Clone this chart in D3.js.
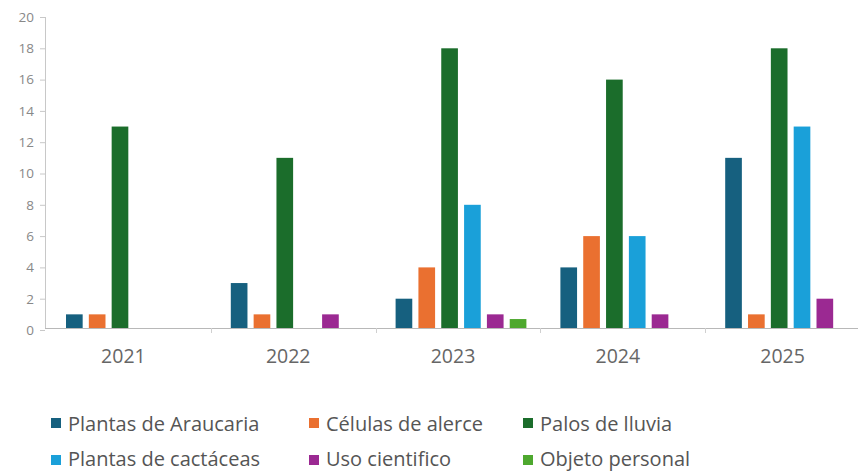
<!DOCTYPE html>
<html>
<head>
<meta charset="utf-8">
<script src="https://cdn.jsdelivr.net/npm/d3@7"></script>
<style>
  html, body { margin: 0; padding: 0; background: #fff; }
  svg { display: block; font-family: "Open Sans", Lato, sans-serif; }
</style>
</head>
<body>
<svg id="chart" width="858" height="471"></svg>
<script>
// Years on the x axis
const years = ["2021", "2022", "2023", "2024", "2025"];

// Series names (legend order)
const seriesNames = [
  "Plantas de Araucaria",
  "Células de alerce",
  "Palos de lluvia",
  "Plantas de cactáceas",
  "Uso cientifico",
  "Objeto personal"
];

// Values per series, one entry per year
const araucaria  = [1, 3, 2, 4, 11];
const alerce     = [1, 1, 4, 6, 1];
const palosLluvia = [13, 11, 18, 16, 18];
const cactaceas  = [0, 0, 8, 6, 13];
const usoCient   = [0, 1, 1, 1, 2];
const objetoPers = [0, 0, 0.7, 0, 0];

const seriesValues = [araucaria, alerce, palosLluvia, cactaceas, usoCient, objetoPers];
const seriesColors = ["#16607f", "#ea7030", "#1b6d2b", "#1aa0d9", "#9b2992", "#4ea82e"];

// Y axis ticks
const yTicks = [0, 2, 4, 6, 8, 10, 12, 14, 16, 18, 20];

const svg = d3.select("#chart");

const axisY = 328;
const y = d3.scaleLinear().domain([0, 20]).range([330, 17]);
const x0 = d3.scaleBand().domain(years).range([46, 870]);
const x1 = d3.scaleBand().domain(d3.range(seriesNames.length))
  .range([20, 20 + 6 * 21.8]).paddingInner(0.27).paddingOuter(0);

// Bars
years.forEach((yr, i) => {
  const g = svg.append("g").attr("transform", `translate(${x0(yr)},0)`);
  seriesValues.forEach((vals, s) => {
    const v = vals[i];
    if (v <= 0) return;
    g.append("rect")
      .attr("x", x1(s))
      .attr("y", y(v))
      .attr("width", x1.bandwidth())
      .attr("height", axisY - y(v))
      .attr("fill", seriesColors[s]);
  });
});

// Y axis
const yAxis = svg.append("g").attr("transform", "translate(45,0)")
  .call(d3.axisLeft(y).tickValues(yTicks).tickSize(5).tickPadding(6));
yAxis.select(".domain").attr("stroke", "#c8c8c8").attr("d", `M0.5,${y(20)}V${axisY}`);
yAxis.selectAll(".tick line").attr("stroke", "#c8c8c8");
yAxis.selectAll(".tick text").attr("fill", "#888")
  .style("font-family", "Open Sans, sans-serif").style("font-size", "13.5px");

// X axis baseline with band boundary ticks
svg.append("line")
  .attr("x1", 45).attr("x2", 858)
  .attr("y1", axisY + 0.5).attr("y2", axisY + 0.5)
  .attr("stroke", "#b8b8b8");
years.slice(1).forEach(yr => {
  svg.append("line")
    .attr("x1", Math.round(x0(yr)) + 0.5).attr("x2", Math.round(x0(yr)) + 0.5)
    .attr("y1", axisY).attr("y2", axisY + 5)
    .attr("stroke", "#d0d0d0");
});
svg.selectAll(".year-label").data(years).enter().append("text")
  .attr("class", "year-label")
  .attr("x", d => x0(d) + x0.bandwidth() / 2 - 5)
  .attr("y", 363)
  .attr("text-anchor", "middle")
  .attr("fill", "#666")
  .style("font-size", "19.5px")
  .text(d => d);

// Legend: three columns, two rows
const legendCols = [51, 309, 523];
const legendRows = [423, 460];
const legendBaselines = [431, 465.5];
seriesNames.forEach((name, i) => {
  const cx = legendCols[i % 3];
  const row = Math.floor(i / 3);
  const cy = legendRows[row];
  svg.append("rect")
    .attr("x", cx).attr("y", cy - 5)
    .attr("width", 10).attr("height", 10)
    .attr("fill", seriesColors[i]);
  svg.append("text")
    .attr("x", cx + 17).attr("y", legendBaselines[row])
    .attr("fill", "#555")
    .style("font-size", "20px")
    .text(name);
});
</script>
</body>
</html>
